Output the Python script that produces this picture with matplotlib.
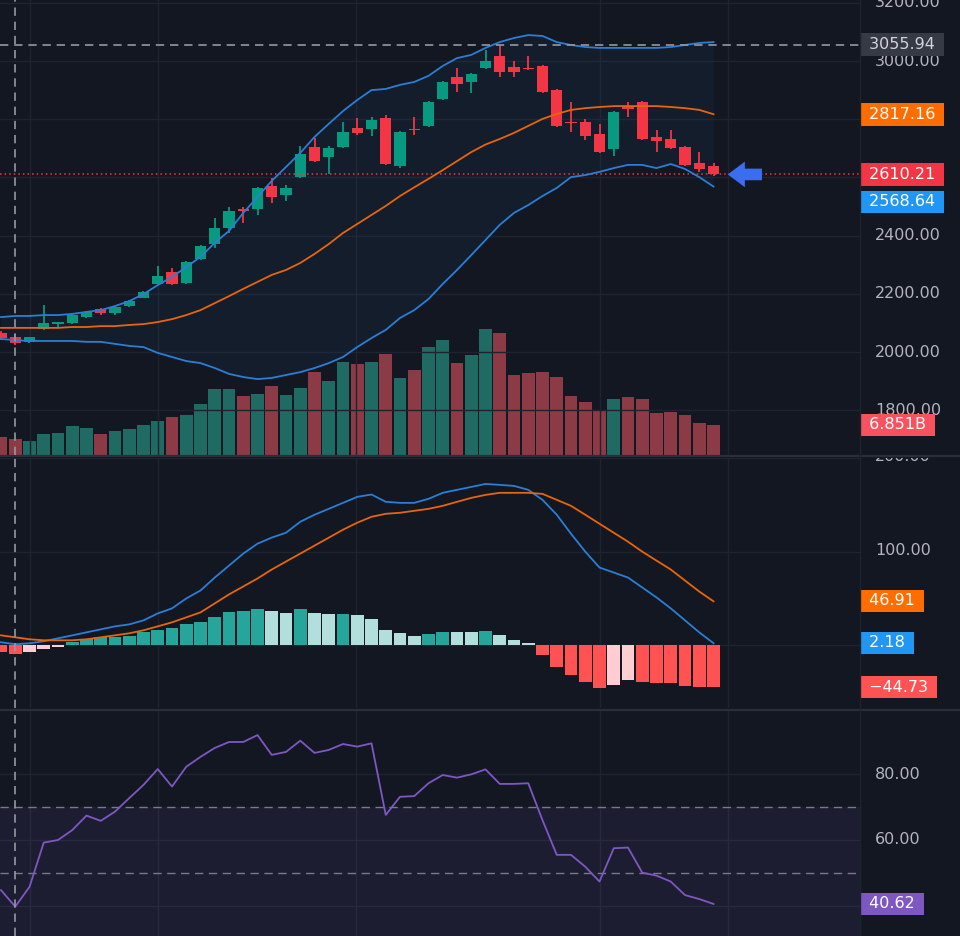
import numpy as np
import matplotlib
matplotlib.use('Agg')
import matplotlib.pyplot as plt
from matplotlib.patches import FancyArrow
from matplotlib.lines import Line2D
from matplotlib.transforms import blended_transform_factory

# candles
opens = [2065, 2052, 2034, 2079, 2096, 2100, 2120, 2148, 2134, 2158, 2186, 2234, 2275, 2237, 2320,
         2371, 2426, 2491, 2491, 2570, 2540, 2601, 2704, 2670, 2704, 2770, 2766, 2804, 2639, 2766,
         2777, 2869, 2945, 2928, 2976, 3017, 2979, 2976, 2983, 2900, 2790, 2790, 2749, 2698, 2842,
         2859, 2739, 2732, 2705, 2650, 2639]
highs = [2072, 2062, 2041, 2162, 2103, 2134, 2140, 2150, 2157, 2178, 2209, 2296, 2289, 2312, 2367,
         2461, 2498, 2498, 2567, 2598, 2574, 2708, 2735, 2708, 2790, 2804, 2808, 2814, 2760, 2808,
         2863, 2931, 2976, 2958, 3038, 3055, 3000, 3017, 2986, 2903, 2859, 2801, 2784, 2828, 2859,
         2862, 2763, 2763, 2708, 2687, 2650]
lows = [2041, 2024, 2031, 2077, 2083, 2098, 2118, 2127, 2127, 2156, 2184, 2232, 2230, 2234, 2317,
        2357, 2409, 2443, 2471, 2512, 2519, 2598, 2653, 2612, 2701, 2746, 2742, 2642, 2632, 2746,
        2773, 2866, 2893, 2890, 2973, 2945, 2945, 2970, 2890, 2773, 2756, 2729, 2684, 2674, 2808,
        2729, 2687, 2698, 2640, 2619, 2606]
closes = [2048, 2031, 2052, 2100, 2103, 2127, 2137, 2134, 2155, 2175, 2206, 2261, 2234, 2309, 2364,
          2426, 2485, 2485, 2564, 2533, 2564, 2680, 2656, 2701, 2756, 2753, 2797, 2646, 2756, 2763,
          2859, 2928, 2921, 2955, 3000, 2962, 2962, 2973, 2893, 2777, 2787, 2742, 2687, 2825, 2835,
          2732, 2725, 2701, 2643, 2629, 2610.21]
# volume in billions
volume = [4.11, 3.65, 3.2, 4.8, 5.02, 6.62, 6.17, 4.8, 5.48, 5.94, 6.85, 7.77, 8.68, 9.14, 11.65,
          15.07, 15.07, 13.48, 13.93, 15.76, 13.7, 15.3, 18.96, 16.9, 21.24, 20.78, 21.24, 23.07,
          17.59, 19.41, 24.67, 26.27, 21.01, 22.84, 28.78, 27.86, 18.27, 18.73, 18.96, 17.82, 13.48,
          12.1, 10.28, 12.79, 13.25, 12.79, 9.59, 9.82, 9.14, 7.31, 6.851]

bb_upper = [2120, 2124, 2124, 2127, 2127, 2131, 2138, 2144, 2158, 2175, 2199, 2230, 2258, 2292, 2327,
            2375, 2416, 2478, 2533, 2588, 2636, 2684, 2739, 2784, 2828, 2866, 2900, 2904, 2918, 2928,
            2949, 2983, 3010, 3021, 3045, 3065, 3079, 3089, 3086, 3065, 3055, 3048, 3045, 3045, 3045,
            3045, 3045, 3048, 3055, 3062, 3065]
bb_basis = [2083, 2083, 2083, 2083, 2083, 2086, 2086, 2089, 2089, 2093, 2096, 2103, 2113, 2127, 2144,
            2168, 2192, 2217, 2241, 2265, 2282, 2306, 2337, 2371, 2409, 2440, 2471, 2502, 2536, 2566,
            2595, 2625, 2656, 2687, 2713, 2732, 2753, 2777, 2801, 2818, 2832, 2838, 2842, 2845, 2845,
            2845, 2845, 2842, 2838, 2832, 2817.16]
bb_lower = [2045, 2041, 2038, 2038, 2038, 2038, 2035, 2035, 2028, 2021, 2017, 1997, 1983, 1969, 1962,
            1945, 1925, 1914, 1907, 1911, 1921, 1931, 1945, 1962, 1983, 2017, 2048, 2076, 2117, 2144,
            2182, 2234, 2282, 2333, 2385, 2437, 2478, 2505, 2536, 2564, 2601, 2608, 2619, 2632, 2643,
            2643, 2632, 2646, 2629, 2601, 2568.64]

macd_line = [3.2, 1.1, 2.1, 4.3, 7.4, 10.6, 13.8, 17, 20.2, 22.3, 26.6, 34, 39.4, 50, 58.5, 72.3, 85.1,
             97.9, 108.5, 115, 120.2, 131.9, 139.4, 145.7, 152.1, 158.5, 161, 153.2, 152.1, 152.1,
             156.4, 162.8, 166, 169.1, 172.3, 171.3, 170.2, 166, 155.3, 139.4, 119.1, 100, 83, 77.7,
             72.3, 61.7, 51.1, 39.4, 26.6, 13.8, 2.18]
signal_line = [10.6, 8.5, 6.4, 5.3, 5.3, 5.3, 6.4, 8.5, 10.6, 12.8, 16, 20.2, 24.5, 29.8, 35.1, 44.7,
               54.3, 62.8, 71.3, 80.9, 89.4, 97.9, 106.4, 114.9, 123.4, 130.9, 137.2, 140.4, 141.5,
               143.6, 145.7, 148.9, 153.2, 157.4, 160.6, 162.8, 162.8, 162.8, 161.7, 155.3, 148.9,
               139.4, 129.8, 120.2, 110.6, 100, 90.4, 80.9, 69.1, 57.4, 46.91]
macd_hist = [-7.5, -9.5, -7, -4.5, -1.5, 3.4, 6.6, 8.3, 8.4, 10.1, 14, 16.5, 18.3, 22.6, 25.3, 30.6,
             35.1, 36.7, 38.8, 37, 34.9, 38.8, 34.9, 32.9, 33.5, 32.1, 28.5, 16.2, 13.3, 9.4, 11.5,
             14.7, 14.6, 14.5, 14.8, 10.6, 5.3, 2.1, -10.3, -23.1, -31.6, -38.7, -46, -42.2, -37.2,
             -38.7, -40.4, -40.6, -43.5, -44.5, -44.73]
hist_state = (['dn'] * 2 + ['dnf'] * 3 + ['up'] * 14 + ['upf'] * 2 + ['up'] + ['upf'] * 2 + ['up']
              + ['upf'] * 5 + ['up'] * 2 + ['upf'] * 2 + ['up'] + ['upf'] * 3 + ['dn'] * 5
              + ['dnf'] * 2 + ['dn'] * 6)

rsi = [44.8, 39.8, 45.8, 59.2, 60, 63, 67.4, 65.8, 68.6, 72.7, 76.7, 81.5, 76.2, 82.2, 85.2, 87.9,
       89.7, 89.7, 91.8, 85.8, 86.7, 90.1, 86.4, 87.3, 89.1, 88.3, 89.3, 67.6, 73.1, 73.3, 77.2,
       79.7, 78.9, 79.9, 81.4, 77, 77, 77.2, 66, 55.5, 55.5, 51.9, 47.4, 57.5, 57.7, 50.1, 49.2,
       47.4, 43.3, 42.1, 40.62]

price_ticks = [1800, 2000, 2200, 2400, 2600, 2800, 3000, 3200]
macd_ticks = [0, 100, 200]
rsi_ticks = [40, 60, 80]
# scale labels that are not hidden behind the value tags
price_labels = [1800, 2000, 2200, 2400, 3000, 3200]
macd_labels = [100, 200]
rsi_labels = [60, 80]
time_grid = [2.03, 11.02, 24.9, 42.0, 51.0]
cross_idx = 1
cross_price = 3055.94

bg = '#131722'
grid_c = '#1f2330'
txt_c = '#b2b5be'
up_c, dn_c = '#089981', '#f23645'
FS = 11.5

x = np.arange(len(closes))
o = np.array(opens)
c = np.array(closes)
rising = c >= o

fig = plt.figure(figsize=(9.6, 9.36), dpi=100, facecolor=bg)
W = 860 / 960


def panel(top_px, bot_px, ylim):
    b = 1 - bot_px / 936
    h = (bot_px - top_px) / 936
    ax = fig.add_axes([0, b, W, h])
    ax.set_facecolor(bg)
    ax.set_xlim(-0.07, 60.28)
    ax.set_ylim(*ylim)
    for s in ax.spines.values():
        s.set_visible(False)
    ax.tick_params(length=0, labelbottom=False, labelleft=False)
    ax.set_xticks(time_grid)
    ax.grid(True, color=grid_c, lw=1)
    ax.set_axisbelow(True)
    sax = fig.add_axes([W, b, 1 - W, h])
    sax.set_xlim(0, 1)
    sax.set_ylim(*ylim)
    sax.axis('off')
    return ax, sax


def tick_label(sax, y, s):
    sax.text(0.15, y, s, color=txt_c, fontsize=FS, va='center', ha='left', clip_on=True)


def box_label(sax, y, s, face, fg='white', trans=None, dy=0):
    kw = {} if trans is None else {'transform': trans}
    sax.text(0.04, y, ' ' + s.replace('-', '\u2212') + ' ', color=fg, fontsize=FS,
             va='center', ha='left', clip_on=True, zorder=5,
             bbox=dict(boxstyle='square,pad=0.24', fc=face, ec='none'), **kw)


# ---- price + volume
ax_p, s_p = panel(0, 455, (1646.2, 3209.6))
ax_p.set_yticks(price_ticks)
ax_v = ax_p.twinx()
ax_v.set_ylim(0, 103.9)
ax_v.axis('off')
ax_v.set_zorder(1)
ax_p.set_zorder(2)
ax_p.patch.set_visible(False)
vol_cols = np.where(rising, '#1f6a62', '#8c3a45')
ax_v.bar(x, volume, width=0.88, color=vol_cols)

cols = np.where(rising, up_c, dn_c)
ax_p.fill_between(x, bb_lower, bb_upper, color='#2196f3', alpha=0.05, lw=0, zorder=1)
ax_p.vlines(x, lows, highs, colors=cols, lw=1.3, zorder=2)
ax_p.bar(x, np.maximum(np.abs(c - o), 4), bottom=np.minimum(o, c), width=0.8, color=cols, zorder=3)
ax_p.plot(x, bb_upper, color='#2a7fd4', lw=1.3, zorder=4)
ax_p.plot(x, bb_lower, color='#2a7fd4', lw=1.3, zorder=4)
ax_p.plot(x, bb_basis, color='#e8650a', lw=1.3, zorder=4)
ax_p.axhline(closes[-1], color=dn_c, lw=1.1, ls=(0, (1, 2)), zorder=3)
ax_p.axhline(cross_price, color='#9598a1', lw=1.2, ls=(0, (5, 3.5)), zorder=5)
ax_p.add_patch(FancyArrow(len(closes) + 2.4, closes[-1], -2.4, 0, width=40, head_width=88,
                          head_length=1.2, length_includes_head=True, color='#3a6df0', lw=0,
                          zorder=6))

for t in price_labels:
    tick_label(s_p, t, f'{t:.2f}')
box_label(s_p, cross_price, f'{cross_price:.2f}', '#363a45', fg='#d1d4dc')
box_label(s_p, bb_basis[-1], f'{bb_basis[-1]:.2f}', '#ff6d00')
box_label(s_p, closes[-1], f'{closes[-1]:.2f}', '#f23645')
# the lower band tag is pushed down so it does not sit on the price tag
box_label(s_p, bb_lower[-1] - 53, f'{bb_lower[-1]:.2f}', '#2196f3')
box_label(s_p, volume[-1], f'{volume[-1]:.3f}B', '#f7525f',
          trans=blended_transform_factory(s_p.transData, ax_v.transData))

# ---- MACD
ax_m, s_m = panel(458, 708, (-67.0, 198.9))
ax_m.set_yticks(macd_ticks)
hcol = {'up': '#26a69a', 'upf': '#b2dfdb', 'dn': '#ff5252', 'dnf': '#ffcdd2'}
ax_m.bar(x, macd_hist, width=0.88, color=[hcol[s] for s in hist_state], zorder=2)
ax_m.plot(x, macd_line, color='#2a7fd4', lw=1.3, zorder=3)
ax_m.plot(x, signal_line, color='#e8650a', lw=1.3, zorder=3)
for t in macd_labels:
    tick_label(s_m, t, f'{t:.2f}')
box_label(s_m, signal_line[-1], f'{signal_line[-1]:.2f}', '#ff6d00')
box_label(s_m, macd_line[-1], f'{macd_line[-1]:.2f}', '#2196f3')
box_label(s_m, macd_hist[-1], f'{macd_hist[-1]:.2f}', '#ff5252')

# ---- RSI
ax_r, s_r = panel(711, 936, (30.9, 99.1))
ax_r.set_yticks(rsi_ticks)
ax_r.axhspan(30, 70, color='#7e57c2', alpha=0.1, lw=0)
ax_r.axhline(70, color='#787b86', lw=1, ls=(0, (6, 4)))
ax_r.axhline(50, color='#787b86', lw=1, ls=(0, (6, 4)))
ax_r.plot(x, rsi, color='#7e57c2', lw=1.3)
for t in rsi_labels:
    tick_label(s_r, t, f'{t:.2f}')
box_label(s_r, rsi[-1], f'{rsi[-1]:.2f}', '#7e57c2')

# crosshair through all panes
for a in (ax_p, ax_m, ax_r):
    a.axvline(cross_idx, color='#9598a1', lw=1.2, ls=(0, (5, 3.5)), zorder=5)

# pane separators
for yy in (1 - 456 / 936, 1 - 709.5 / 936):
    fig.add_artist(Line2D([0, 1], [yy, yy], color='#2a2e39', lw=1.6, transform=fig.transFigure))
fig.add_artist(Line2D([W, W], [0, 1], color='#1f2330', lw=1, transform=fig.transFigure))

fig.savefig('out.png', dpi=100, facecolor=bg)
